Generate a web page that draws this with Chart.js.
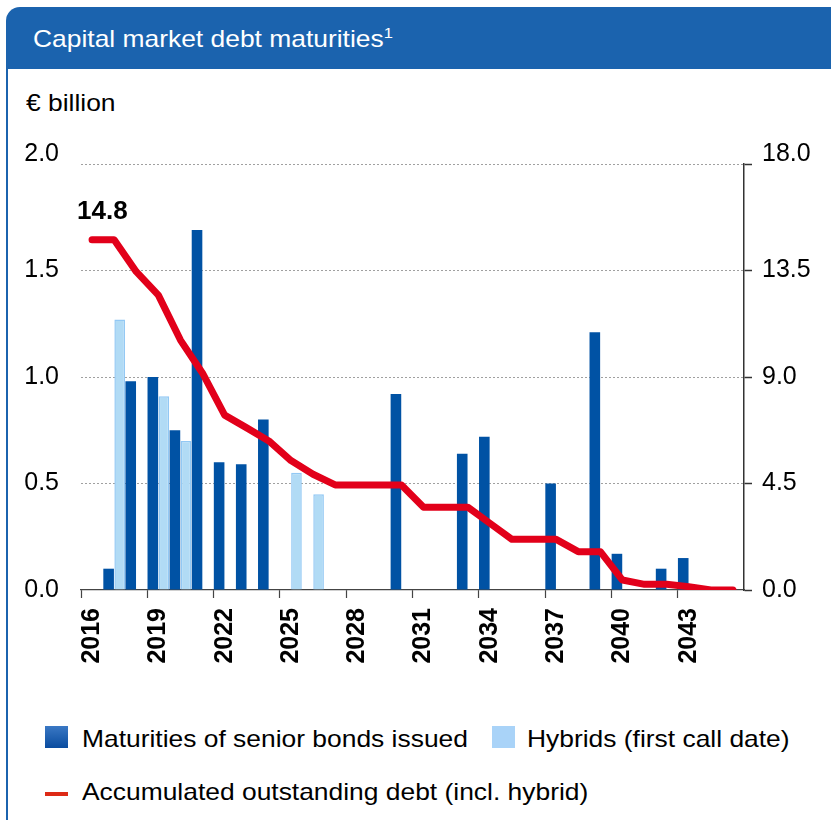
<!DOCTYPE html>
<html>
<head>
<meta charset="utf-8">
<script src="https://cdn.jsdelivr.net/npm/chart.js@4"></script>
<style>
  body { margin: 0; background: #fff; font-family: "Liberation Sans", Arial, sans-serif; }
  #wrap { position: relative; width: 831px; height: 820px; overflow: hidden; }
  #header { position: absolute; left: 6px; top: 7px; width: 860px; height: 62px; background: #1b63ae; border-radius: 14px 14px 0 0; }
  #frame { position: absolute; left: 6px; top: 69px; width: 2px; height: 760px; background: #1b63ae; }
  .txt { position: absolute; font-size: 24px; line-height: 24px; white-space: nowrap; transform: scaleX(1.1); transform-origin: left top; color: #000; }
  #title { left: 33px; top: 27px; color: #fff; }
  #title sup { font-size: 15px; line-height: 0; vertical-align: 9px; }
  #unit { left: 26px; top: 91px; }
  .sw { position: absolute; }
  #chartBox { position: absolute; left: 0; top: 122px; width: 831px; height: 588px; }
</style>
</head>
<body>
<div id="wrap">
  <div id="header"></div>
  <div id="frame"></div>
  <div class="txt" id="title">Capital market debt maturities<sup>1</sup></div>
  <div class="txt" id="unit">€ billion</div>
  <div id="chartBox"><canvas id="grafica"></canvas></div>

  <div class="sw" style="left:45px;top:726px;width:23px;height:22px;background:linear-gradient(#3a78c4,#0a4c9f);"></div>
  <div class="txt" style="left:82px;top:727px;">Maturities of senior bonds issued</div>
  <div class="sw" style="left:492px;top:726px;width:23px;height:22px;background:#a9d3f8;"></div>
  <div class="txt" style="left:527px;top:727px;">Hybrids (first call date)</div>
  <div class="sw" style="left:45px;top:792px;width:23px;height:4px;background:#dd2a16;"></div>
  <div class="txt" style="left:82px;top:780px;">Accumulated outstanding debt (incl. hybrid)</div>
</div>
<script>
// datos
const anios = ['2016','2017','2018','2019','2020','2021','2022','2023','2024','2025',
               '2026','2027','2028','2029','2030','2031','2032','2033','2034','2035',
               '2036','2037','2038','2039','2040','2041','2042','2043','2044','2045'];
const senior = [null, 0.10, 0.98, 1.00, 0.75, 1.69, 0.60, 0.59, 0.80, null,
                null, null, null, null, 0.92, null, null, 0.64, 0.72, null,
                null, 0.50, null, 1.21, 0.17, null, 0.10, 0.15, null, null];
const hibridos = [null, 1.27, null, 0.91, 0.70, null, null, null, null, 0.55,
                  0.45, null, null, null, null, null, null, null, null, null,
                  null, null, null, null, null, null, null, null, null, null];
const acumulado = [14.8, 14.8, 13.45, 12.46, 10.56, 9.16, 7.39, 6.85, 6.30, 5.47,
                   4.89, 4.44, 4.44, 4.44, 4.44, 3.5, 3.5, 3.5, 2.82, 2.14,
                   2.14, 2.14, 1.62, 1.62, 0.42, 0.24, 0.24, 0.14, 0, 0];
const ticksIzq = [0, 0.5, 1.0, 1.5, 2.0];
const ticksDer = [0, 4.5, 9.0, 13.5, 18.0];

const fuente = '"Liberation Sans", Arial, sans-serif';

const etiquetaInicio = {
    id: 'etiquetaInicio',
    afterDatasetsDraw(chart) {
        const meta = chart.getDatasetMeta(2);
        const p = meta.data[0];
        if (!p) return;
        const ctx = chart.ctx;
        ctx.save();
        ctx.font = 'bold 26px ' + fuente;
        ctx.fillStyle = '#000';
        ctx.textAlign = 'left';
        ctx.textBaseline = 'alphabetic';
        ctx.fillText(acumulado[0].toFixed(1), p.x - 15, p.y - 21);
        ctx.restore();
    }
};

// la etiqueta superior de cada eje va un poco por encima de la linea
function etiquetaEje(max) {
    return (v) => (v === max ? [Number(v).toFixed(1), ''] : Number(v).toFixed(1));
}
function fuenteEje(max) {
    return (c) => ({ family: fuente, size: 25, lineHeight: (c.tick && c.tick.value === max) ? 0.8 : 1.2 });
}

const ctx = document.getElementById('grafica').getContext('2d');
new Chart(ctx, {
    data: {
        labels: anios,
        datasets: [{
            type: 'bar',
            label: 'Maturities of senior bonds issued',
            data: senior,
            backgroundColor: '#0052a4',
            borderWidth: 0,
            yAxisID: 'y',
            order: 1
        }, {
            type: 'bar',
            label: 'Hybrids (first call date)',
            data: hibridos,
            backgroundColor: '#b1dbf5',
            borderColor: '#92c8f4',
            borderWidth: 1.5,
            yAxisID: 'y',
            order: 2
        }, {
            type: 'line',
            label: 'Accumulated outstanding debt (incl. hybrid)',
            data: acumulado,
            borderColor: '#e2001a',
            borderWidth: 7,
            borderCapStyle: 'round',
            borderJoinStyle: 'round',
            pointRadius: 0,
            tension: 0,
            fill: false,
            yAxisID: 'y2',
            order: 0
        }]
    },
    options: {
        responsive: true,
        maintainAspectRatio: false,
        animation: false,
        layout: { padding: { top: 0, left: 0, right: 0, bottom: 0 } },
        datasets: {
            bar: { categoryPercentage: 1.0, barPercentage: 0.96, grouped: true }
        },
        plugins: {
            legend: { display: false },
            tooltip: { enabled: false }
        },
        scales: {
            x: {
                type: 'category',
                offset: true,
                grid: {
                    offset: true,
                    drawOnChartArea: false,
                    drawTicks: true,
                    tickLength: 8,
                    tickWidth: 1.2,
                    tickColor: (c) => (c.index % 3 === 0 ? '#444' : 'rgba(0,0,0,0)')
                },
                border: { display: true, color: '#444', width: 1.2 },
                ticks: {
                    autoSkip: false,
                    minRotation: 90,
                    maxRotation: 90,
                    padding: 10,
                    color: '#000',
                    font: { family: fuente, size: 25, weight: 'bold' },
                    callback: function (v, i) { return i % 3 === 0 ? anios[i] : ''; }
                },
                afterFit: (s) => { s.height = 120; }
            },
            y: {
                position: 'left',
                min: 0,
                max: 2.0,
                afterBuildTicks: (s) => { s.ticks = ticksIzq.map(v => ({ value: v })); },
                grid: {
                    drawTicks: false,
                    color: (c) => (c.tick && c.tick.value === 0 ? 'rgba(0,0,0,0)' : '#a0a0a0'),
                    lineWidth: 1
                },
                border: { display: false, dash: [2, 2] },
                ticks: {
                    padding: 22,
                    color: '#000',
                    font: fuenteEje(2.0),
                    callback: etiquetaEje(2.0)
                },
                afterFit: (s) => { s.width = 81; }
            },
            y2: {
                position: 'right',
                min: 0,
                max: 18.0,
                afterBuildTicks: (s) => { s.ticks = ticksDer.map(v => ({ value: v })); },
                grid: {
                    drawOnChartArea: false,
                    drawTicks: true,
                    tickLength: 8,
                    tickColor: '#333',
                    tickWidth: 1.5
                },
                border: { display: true, color: '#333', width: 1.5 },
                ticks: {
                    padding: 10,
                    color: '#000',
                    font: fuenteEje(18.0),
                    callback: etiquetaEje(18.0)
                },
                afterFit: (s) => { s.width = 87; }
            }
        }
    },
    plugins: [etiquetaInicio]
});
</script>
</body>
</html>
